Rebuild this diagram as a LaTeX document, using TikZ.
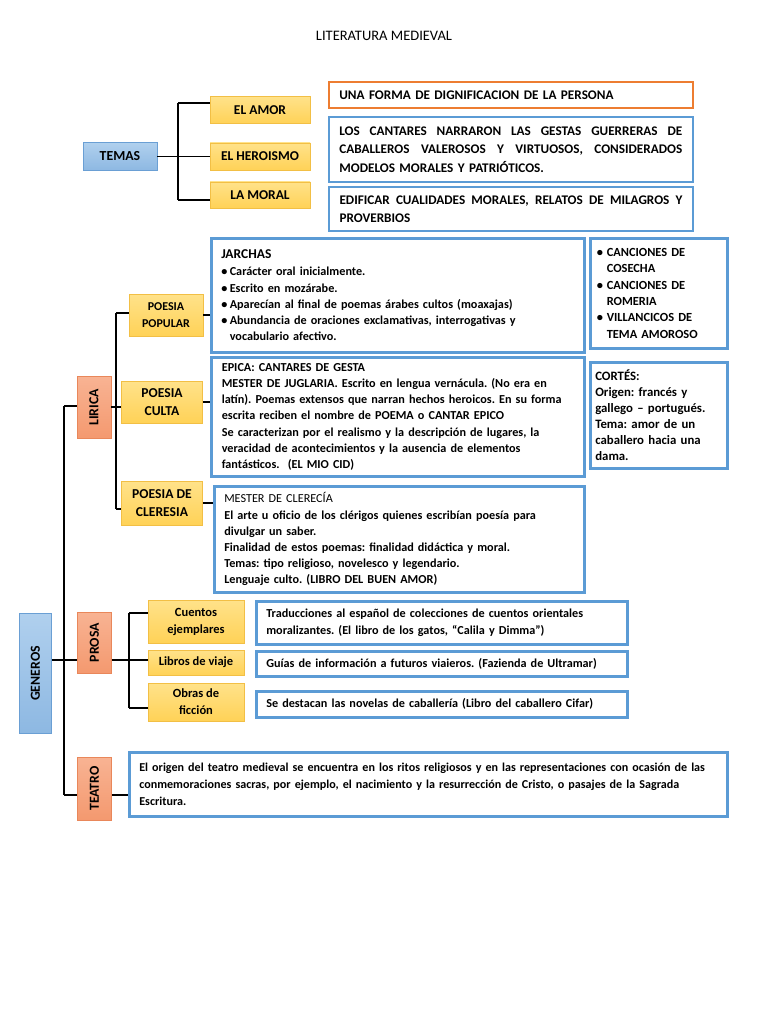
\documentclass[tikz,border=0pt]{standalone}
\usepackage{fontspec}
\usepackage{graphicx}
\setmainfont{Carlito}
\definecolor{ytop}{HTML}{FFE28A}
\definecolor{ybot}{HTML}{FFD257}
\definecolor{ydraw}{HTML}{F2BF45}
\definecolor{stop}{HTML}{F8B393}
\definecolor{sbot}{HTML}{F4996F}
\definecolor{sdraw}{HTML}{E9875A}
\definecolor{btop}{HTML}{B0D0EE}
\definecolor{bbot}{HTML}{8DB8E2}
\definecolor{bdraw}{HTML}{6A9FD4}
\definecolor{cblue}{HTML}{5B9BD5}
\definecolor{corange}{HTML}{ED7D31}
\newcommand{\bul}{\makebox[8.5pt][l]{\textbullet}}
\newcommand{\bulw}{\makebox[10pt][l]{\textbullet}}
\newcommand{\jline}[1]{\makebox[343pt][s]{\spaceskip=0pt\xspaceskip=0pt\relax #1}}
\begin{document}
\frenchspacing
\begin{tikzpicture}[x=1pt,y=-1pt,
 yel/.style={draw=ydraw, top color=ytop, bottom color=ybot, line width=0.8pt, font=\bfseries\fontsize{12.5}{17}\selectfont, align=center, inner sep=0pt},
 sal/.style={draw=sdraw, top color=stop, bottom color=sbot, line width=0.8pt, font=\bfseries\fontsize{13.8}{15}\selectfont, inner sep=0pt},
 blu/.style={draw=bdraw, top color=btop, bottom color=bbot, line width=0.8pt, font=\bfseries\fontsize{13.8}{15}\selectfont, inner sep=0pt},
 cbox/.style={draw=cblue, fill=white, line width=2.6pt, font=\bfseries\fontsize{12.2}{16.2}\selectfont, align=left, anchor=north west, inner sep=0pt},
 conn/.style={line width=1.6pt, black}]
\useasboundingbox[fill=white] (0,0) rectangle (768,1024);

\node[font=\fontsize{14.5}{16}\selectfont] (title) at (384,36) {LITERATURA MEDIEVAL};

% ---------------- TEMAS ----------------
\node[blu, minimum width=74, minimum height=28] (temas) at (120,156.5) {TEMAS};
\node[yel, minimum width=100, minimum height=27, font=\bfseries\fontsize{13.5}{17}\selectfont] (amor) at (260,110) {EL AMOR};
\node[yel, minimum width=100, minimum height=27, font=\bfseries\fontsize{13.5}{17}\selectfont] (heroismo) at (260,156.5) {EL HEROISMO};
\node[yel, minimum width=100, minimum height=26, font=\bfseries\fontsize{13.5}{17}\selectfont] (moral) at (260,195) {LA MORAL};

\node[cbox, draw=corange, line width=1.6pt, minimum width=364, minimum height=26, text width=343, inner xsep=10.5, font=\bfseries\fontsize{13.2}{18}\selectfont] (dign) at (328,81) {UNA FORMA DE DIGNIFICACION DE LA PERSONA};
\node[cbox, line width=1.6pt, minimum width=364, minimum height=65, text width=343, inner xsep=10.5, font=\bfseries\fontsize{13.2}{18.5}\selectfont] (cantares) at (328,116) {\jline{LOS CANTARES NARRARON LAS GESTAS GUERRERAS DE}\\\jline{CABALLEROS VALEROSOS Y VIRTUOSOS, CONSIDERADOS}\\MODELOS MORALES Y PATRIÓTICOS.};
\node[cbox, line width=2pt, minimum width=364, minimum height=44, text width=343, inner xsep=10.5, font=\bfseries\fontsize{13.2}{18.5}\selectfont] (edif) at (328,186) {\jline{EDIFICAR CUALIDADES MORALES, RELATOS DE MILAGROS Y}\\PROVERBIOS};

\coordinate (tjt) at (178,103);
\coordinate (tjb) at (178,200);
\draw[conn] (tjt) -- (tjb);
\draw[conn] (tjt) -- (tjt -| amor.west);
\draw[conn] (tjb) -- (tjb -| moral.west);
\draw[conn] (temas.east) -- (heroismo.west);

% ---------------- LIRICA ----------------
\node[sal, minimum width=34, minimum height=62] (lirica) at (94,407.5) {\rotatebox{90}{LIRICA}};
\node[yel, minimum width=74, minimum height=42, font=\bfseries\fontsize{12}{17}\selectfont] (popular) at (166,315) {POESIA\\POPULAR};
\node[yel, minimum width=81, minimum height=42, font=\bfseries\fontsize{13.6}{18}\selectfont] (culta) at (162,402) {POESIA\\CULTA};
\node[yel, minimum width=81, minimum height=44, font=\bfseries\fontsize{13.6}{18}\selectfont] (cleresia) at (162,503) {POESIA DE\\CLERESIA};

\node[cbox, minimum width=373, minimum height=114, text width=353, inner xsep=10] (jarchas) at (210,237) {{\fontsize{13.5}{16}\selectfont JARCHAS}\\[1pt]
\bul Carácter oral inicialmente.\\
\bul Escrito en mozárabe.\\
\bul Aparecían al final de poemas árabes cultos (moaxajas)\\
\bul Abundancia de oraciones exclamativas, interrogativas y\\
\hspace*{8.5pt}vocabulario afectivo.};
\node[cbox, minimum width=137, minimum height=110, text width=124, inner xsep=6.5, font=\bfseries\fontsize{12.4}{16.3}\selectfont] (canciones) at (589,237) {\bulw CANCIONES DE\\
\hspace*{10pt}COSECHA\\
\bulw CANCIONES DE\\
\hspace*{10pt}ROMERIA\\
\bulw VILLANCICOS DE\\
\hspace*{10pt}TEMA AMOROSO};

\node[cbox, minimum width=373, minimum height=119, text width=352, inner xsep=10.5] (epica) at (210,356) {EPICA: CANTARES DE GESTA\\
MESTER DE JUGLARIA. Escrito en lengua vernácula. (No era en\\
latín). Poemas extensos que narran hechos heroicos. En su forma\\
escrita reciben el nombre de POEMA o CANTAR EPICO\\
Se caracterizan por el realismo y la descripción de lugares, la\\
veracidad de acontecimientos y la ausencia de elementos\\
fantásticos.\ \ (EL MIO CID)};
\node[cbox, minimum width=137, minimum height=106, text width=127, inner xsep=5, font=\bfseries\fontsize{12.8}{16}\selectfont] (cortes) at (589,361) {CORTÉS:\\
Origen: francés y\\
gallego – portugués.\\
Tema: amor de un\\
caballero hacia una\\
dama.};

\node[cbox, minimum width=370, minimum height=106, text width=350, inner xsep=10] (clerecia) at (213,485) {{\mdseries MESTER DE CLERECÍA}\\
El arte u oficio de los clérigos quienes escribían poesía para\\
divulgar un saber.\\
Finalidad de estos poemas: finalidad didáctica y moral.\\
Temas: tipo religioso, novelesco y legendario.\\
Lenguaje culto. (LIBRO DEL BUEN AMOR)};

\coordinate (ljt) at (116,313);
\coordinate (ljb) at (116,509);
\draw[conn] (ljt) -- (ljb);
\draw[conn] (ljt) -- (ljt -| popular.west);
\draw[conn] (ljb) -- (ljb -| cleresia.west);
\coordinate (ljm) at (111,407);
\draw[conn] (ljm) -- (ljm -| culta.west);
\draw[conn] (popular.east) -- (popular.east -| jarchas.west);
\draw[conn] (culta.east) -- (culta.east -| epica.west);
\draw[conn] (cleresia.east) -- (cleresia.east -| clerecia.west);

% ---------------- GENEROS ----------------
\node[blu, minimum width=32, minimum height=120] (generos) at (35.5,673.5) {\rotatebox{90}{GENEROS}};
\node[sal, minimum width=34, minimum height=61] (prosa) at (94.5,642.5) {\rotatebox{90}{PROSA}};
\node[sal, minimum width=34, minimum height=63] (teatro) at (94.5,788.5) {\rotatebox{90}{TEATRO}};

\coordinate (gjt) at (64,406);
\coordinate (gjb) at (64,795);
\coordinate (gjm) at (64,660);
\draw[conn] (gjt) -- (gjb);
\draw[conn] (gjt) -- (gjt -| lirica.west);
\draw[conn] (gjb) -- (gjb -| teatro.west);
\draw[conn] (gjm -| generos.east) -- (gjm -| prosa.west);

% ---------------- PROSA ----------------
\node[yel, minimum width=96, minimum height=43] (cuentos) at (196,621.5) {Cuentos\\ejemplares};
\node[yel, minimum width=96, minimum height=25] (libros) at (196,662.5) {Libros de viaje};
\node[yel, minimum width=96, minimum height=38] (obras) at (196,702) {Obras de\\ficción};

\node[cbox, minimum width=371, minimum height=43, text width=351, inner xsep=10] (trad) at (255,600) {Traducciones al español de colecciones de cuentos orientales\\
moralizantes. (El libro de los gatos, “Calila y Dimma”)};
\node[cbox, minimum width=371, minimum height=25, text width=351, inner xsep=10] (guias) at (255,650) {Guías de información a futuros viaieros. (Fazienda de Ultramar)};
\node[cbox, minimum width=371, minimum height=26, text width=351, inner xsep=10] (destacan) at (255,690) {Se destacan las novelas de caballería (Libro del caballero Cifar)};

\coordinate (pjt) at (129,613);
\coordinate (pjb) at (129,708);
\coordinate (pjm) at (129,660);
\draw[conn] (pjt) -- (pjb);
\draw[conn] (pjt) -- (pjt -| cuentos.west);
\draw[conn] (pjb) -- (pjb -| obras.west);
\draw[conn] (pjm -| prosa.east) -- (pjm -| libros.west);

% ---------------- TEATRO ----------------
\node[cbox, minimum width=598, minimum height=64, text width=578, inner xsep=10, font=\bfseries\fontsize{12.1}{16.8}\selectfont] (teatrobox) at (128,751) {El origen del teatro medieval se encuentra en los ritos religiosos y en las representaciones con ocasión de las\\
conmemoraciones sacras, por ejemplo, el nacimiento y la resurrección de Cristo, o pasajes de la Sagrada\\
Escritura.};
\draw[conn] (gjb -| teatro.east) -- (gjb -| teatrobox.west);
\end{tikzpicture}
\end{document}
